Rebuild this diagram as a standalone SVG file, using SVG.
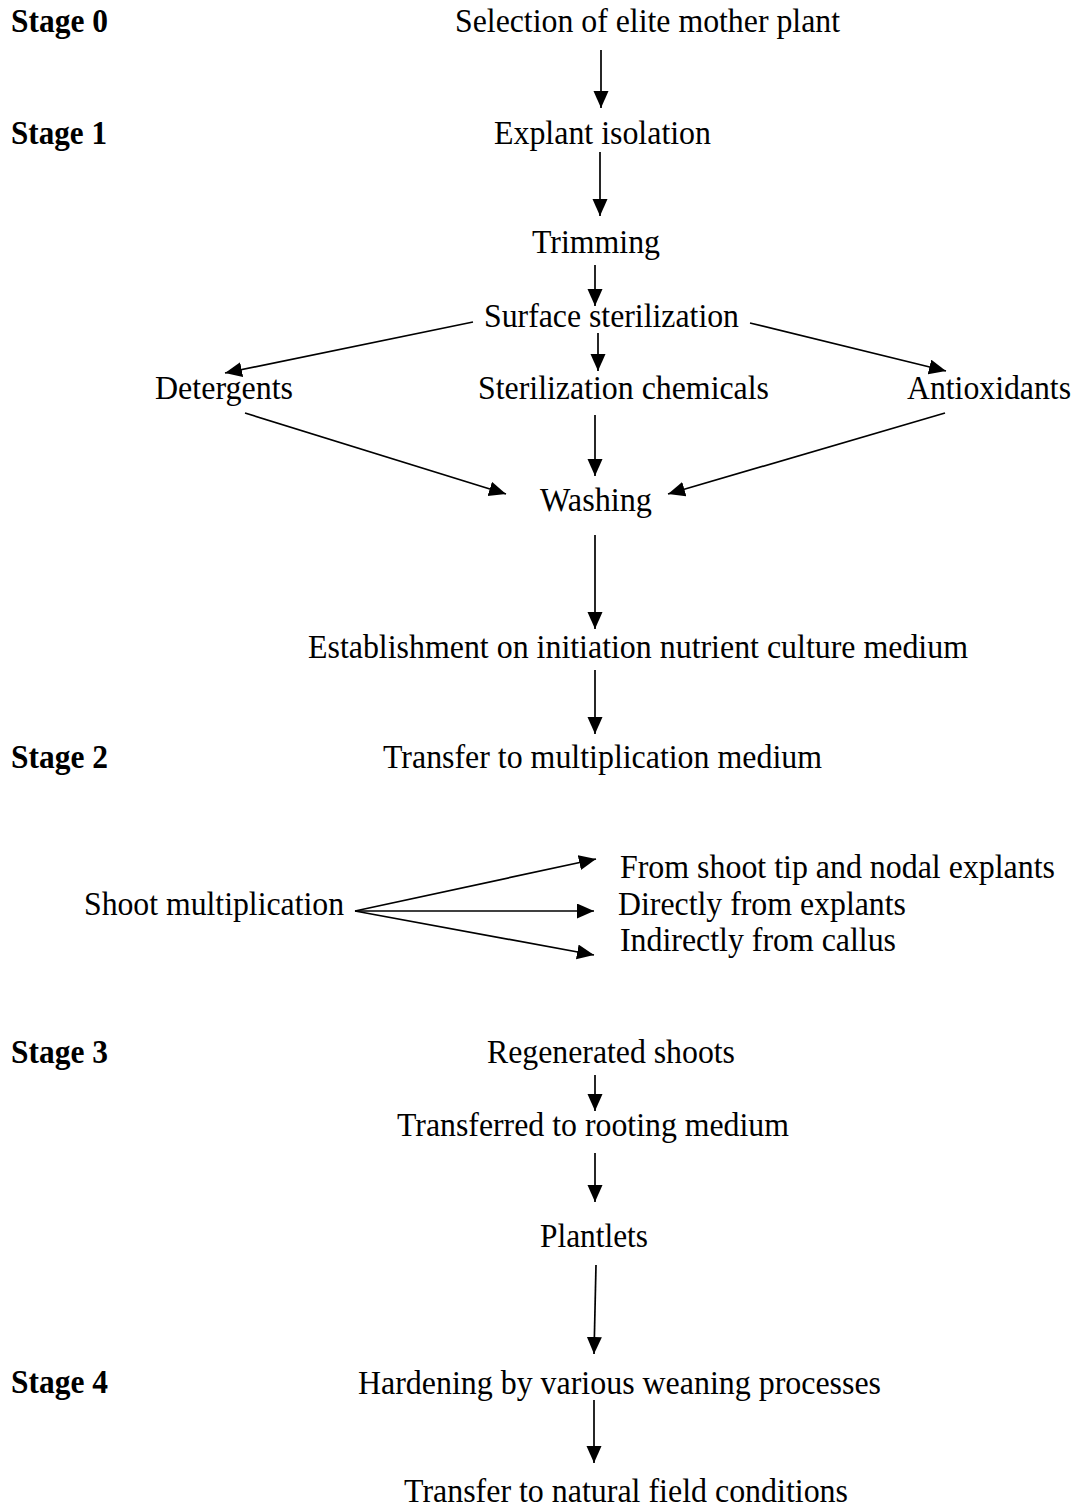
<svg xmlns="http://www.w3.org/2000/svg" width="1076" height="1509" viewBox="0 0 1076 1509">
<style>
text{font-family:"Liberation Serif","Times New Roman",serif;font-size:33px;fill:#000}
.stage{font-weight:bold}
.conn line{stroke:#000;stroke-width:1.7;fill:none;marker-end:url(#ah)}
</style>
<defs>
<marker id="ah" markerUnits="userSpaceOnUse" markerWidth="18" markerHeight="16" refX="17" refY="7.5" orient="auto">
<path d="M0,0 L17,7.5 L0,15 z" fill="#000"/>
</marker>
</defs>
<rect width="1076" height="1509" fill="#fff"/>
<g id="stage0"><text class="stage" x="11" y="32" textLength="97" lengthAdjust="spacingAndGlyphs">Stage 0</text></g>
<g id="stage1"><text class="stage" x="11" y="144" textLength="96" lengthAdjust="spacingAndGlyphs">Stage 1</text></g>
<g id="stage2"><text class="stage" x="11" y="768" textLength="97" lengthAdjust="spacingAndGlyphs">Stage 2</text></g>
<g id="stage3"><text class="stage" x="11" y="1063" textLength="97" lengthAdjust="spacingAndGlyphs">Stage 3</text></g>
<g id="stage4"><text class="stage" x="11" y="1393" textLength="97" lengthAdjust="spacingAndGlyphs">Stage 4</text></g>
<g id="n-selection"><text x="455" y="32" textLength="385" lengthAdjust="spacingAndGlyphs">Selection of elite mother plant</text></g>
<g id="n-explant"><text x="494" y="144" textLength="217" lengthAdjust="spacingAndGlyphs">Explant isolation</text></g>
<g id="n-trimming"><text x="532" y="253" textLength="128" lengthAdjust="spacingAndGlyphs">Trimming</text></g>
<g id="n-surface"><text x="484" y="327" textLength="255" lengthAdjust="spacingAndGlyphs">Surface sterilization</text></g>
<g id="n-detergents"><text x="155" y="399" textLength="138" lengthAdjust="spacingAndGlyphs">Detergents</text></g>
<g id="n-chemicals"><text x="478" y="399" textLength="291" lengthAdjust="spacingAndGlyphs">Sterilization chemicals</text></g>
<g id="n-antioxidants"><text x="907" y="399" textLength="164" lengthAdjust="spacingAndGlyphs">Antioxidants</text></g>
<g id="n-washing"><text x="540" y="511" textLength="112" lengthAdjust="spacingAndGlyphs">Washing</text></g>
<g id="n-establishment"><text x="308" y="658" textLength="660" lengthAdjust="spacingAndGlyphs">Establishment on initiation nutrient culture medium</text></g>
<g id="n-transfer-mult"><text x="383" y="768" textLength="439" lengthAdjust="spacingAndGlyphs">Transfer to multiplication medium</text></g>
<g id="n-shoot-mult"><text x="84" y="915" textLength="260" lengthAdjust="spacingAndGlyphs">Shoot multiplication</text></g>
<g id="n-shoot-tip"><text x="620" y="878" textLength="435" lengthAdjust="spacingAndGlyphs">From shoot tip and nodal explants</text></g>
<g id="n-directly"><text x="618" y="915" textLength="288" lengthAdjust="spacingAndGlyphs">Directly from explants</text></g>
<g id="n-indirectly"><text x="620" y="951" textLength="276" lengthAdjust="spacingAndGlyphs">Indirectly from callus</text></g>
<g id="n-regenerated"><text x="487" y="1063" textLength="248" lengthAdjust="spacingAndGlyphs">Regenerated shoots</text></g>
<g id="n-rooting"><text x="397" y="1136" textLength="392" lengthAdjust="spacingAndGlyphs">Transferred to rooting medium</text></g>
<g id="n-plantlets"><text x="540" y="1247" textLength="108" lengthAdjust="spacingAndGlyphs">Plantlets</text></g>
<g id="n-hardening"><text x="358" y="1394" textLength="523" lengthAdjust="spacingAndGlyphs">Hardening by various weaning processes</text></g>
<g id="n-field"><text x="404" y="1502" textLength="444" lengthAdjust="spacingAndGlyphs">Transfer to natural field conditions</text></g>
<g id="connectors" class="conn">
<line x1="601" y1="50" x2="601" y2="108"/>
<line x1="600" y1="152" x2="600" y2="216"/>
<line x1="595" y1="265" x2="595" y2="306"/>
<line x1="473" y1="322" x2="225" y2="373"/>
<line x1="598" y1="333" x2="598" y2="371"/>
<line x1="750" y1="323" x2="946" y2="371"/>
<line x1="245" y1="413" x2="506" y2="494"/>
<line x1="595" y1="415" x2="595" y2="476"/>
<line x1="945" y1="413" x2="668" y2="494"/>
<line x1="595" y1="535" x2="595" y2="629"/>
<line x1="595" y1="670" x2="595" y2="734"/>
<line x1="355" y1="911" x2="596" y2="859"/>
<line x1="355" y1="911" x2="594" y2="911"/>
<line x1="355" y1="911" x2="594" y2="955"/>
<line x1="595" y1="1075" x2="595" y2="1111"/>
<line x1="595" y1="1153" x2="595" y2="1202"/>
<line x1="596" y1="1265" x2="594" y2="1354"/>
<line x1="594" y1="1400" x2="594" y2="1463"/>
</g>
</svg>
